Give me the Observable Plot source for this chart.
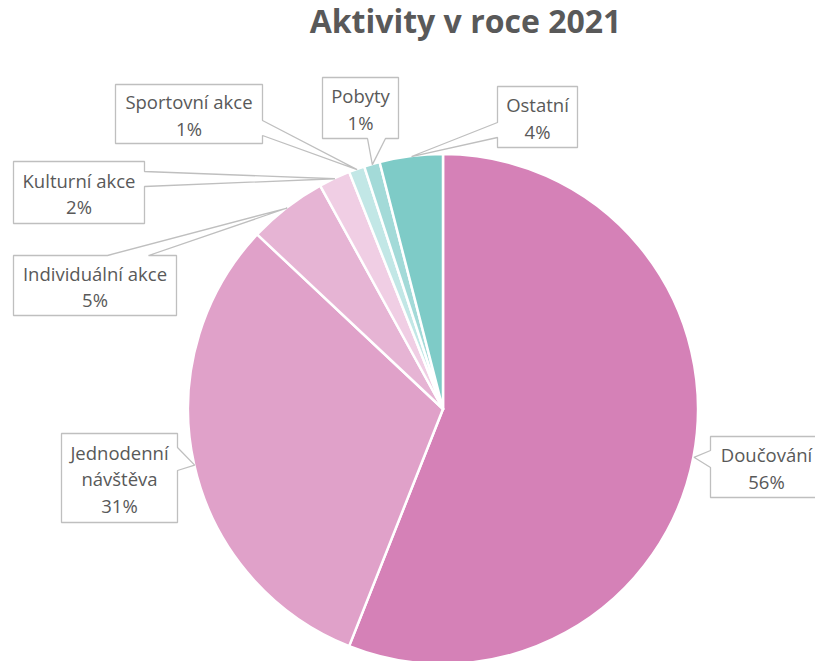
<!DOCTYPE html>
<html>
<head>
<meta charset="utf-8">
<script src="https://cdn.jsdelivr.net/npm/d3@7"></script>
<script src="https://cdn.jsdelivr.net/npm/@observablehq/plot@0.6"></script>
<style>
  html, body { margin: 0; padding: 0; background: #fff; overflow: hidden; }
  #title { height: 50px; box-sizing: border-box; padding-top: 5px; padding-left: 116px; width: 815px;
    text-align: center; font-family: "Open Sans", Lato, sans-serif; font-weight: bold; font-size: 32px;
    line-height: 32px; color: #595959; white-space: nowrap; }
</style>
</head>
<body>
<div id="title">Aktivity v roce 2021</div>
<div id="chart"></div>
<script>
// ---- data ----
const categories = ["Doučování", "Jednodenní návštěva", "Individuální akce", "Kulturní akce", "Sportovní akce", "Pobyty", "Ostatní"];
const values = [56, 31, 5, 2, 1, 1, 4];
const colors = ["#D581B7", "#E0A1C9", "#E6B4D4", "#F0CEE4", "#C2E7E6", "#A3DAD8", "#7ECBC7"];

// ---- layout (page pixels) ----
const W = 815, H = 611, TOP = 50;
const CX = 443, CY = 409, R = 255;
// callout boxes: [x0, x1, y0, y1], pointer side and the two attach points on that side
const callouts = [
  {box: [710, 822, 436, 497], side: "left",   at: [450, 467], wrap: false},
  {box: [61, 177, 433, 522],  side: "right",  at: [447, 470], wrap: true},
  {box: [13, 176, 255, 315],  side: "top",    at: [107, 148], wrap: false},
  {box: [13, 144, 161, 223],  side: "right",  at: [171, 186], wrap: false},
  {box: [115, 262, 84, 143],  side: "right",  at: [120, 135], wrap: false},
  {box: [322, 398, 77, 138],  side: "bottom", at: [367, 385], wrap: false},
  {box: [497, 577, 86, 147],  side: "left",   at: [122, 137], wrap: false}
];

// data coordinates: pie centre at (0,0), y up, 1 unit = 1 px
const toX = px => px - CX;
const toY = py => CY - py;

const arcs = d3.pie().sort(null).value(d => d)(values);

const polyRows = [];
const textRows = [];
arcs.forEach((a, i) => {
  const mid = (a.startAngle + a.endAngle) / 2;
  const tip = [R * Math.sin(mid), R * Math.cos(mid)];
  const c = callouts[i];
  const [x0, x1, y0, y1] = c.box;
  const [p, q] = c.at;
  let pts = [];
  const T = ["tip"];
  pts.push([x0, y0]);
  if (c.side === "top") pts.push([p, y0], T, [q, y0]);
  pts.push([x1, y0]);
  if (c.side === "right") pts.push([x1, p], T, [x1, q]);
  pts.push([x1, y1]);
  if (c.side === "bottom") pts.push([q, y1], T, [p, y1]);
  pts.push([x0, y1]);
  if (c.side === "left") pts.push([x0, q], T, [x0, p]);
  pts.forEach((pt, k) => {
    if (pt === T) polyRows.push({id: i, k, x: tip[0], y: tip[1]});
    else polyRows.push({id: i, k, x: toX(pt[0]), y: toY(pt[1])});
  });
  const name = c.wrap ? categories[i].replace(" ", "\n") : categories[i];
  textRows.push({x: toX((x0 + x1) / 2), y: toY((y0 + y1) / 2), text: name + "\n" + values[i] + "%"});
});

const pieMark = (index, scales) => {
  const cx = scales.x(0), cy = scales.y(0);
  const r = Math.abs(scales.x(R) - scales.x(0));
  const g = d3.create("svg:g").attr("transform", `translate(${cx},${cy})`);
  g.selectAll("path").data(arcs).join("path")
    .attr("d", d3.arc().innerRadius(0).outerRadius(r))
    .attr("fill", (d, i) => colors[i])
    .attr("stroke", "#ffffff")
    .attr("stroke-width", 2.5)
    .attr("stroke-linejoin", "round");
  return g.node();
};

const chart = Plot.plot({
  width: W,
  height: H,
  margin: 0,
  style: {background: "#fff", overflow: "visible"},
  x: {domain: [toX(0), toX(W)], range: [0, W], axis: null},
  y: {domain: [toY(TOP + H), toY(TOP)], range: [H, 0], axis: null},
  marks: [
    pieMark,
    Plot.line(polyRows, {x: "x", y: "y", z: "id", curve: "linear-closed", fill: "#ffffff",
      stroke: "#BFBFBF", strokeWidth: 1.3, strokeLinejoin: "miter"}),
    Plot.text(textRows, {x: "x", y: "y", text: "text", fontSize: 18.5, lineHeight: 1.42,
      fill: "#595959", fontFamily: "'Open Sans', Lato, sans-serif", textAnchor: "middle", lineAnchor: "middle"})
  ]
});
document.getElementById("chart").appendChild(chart);
</script>
</body>
</html>
